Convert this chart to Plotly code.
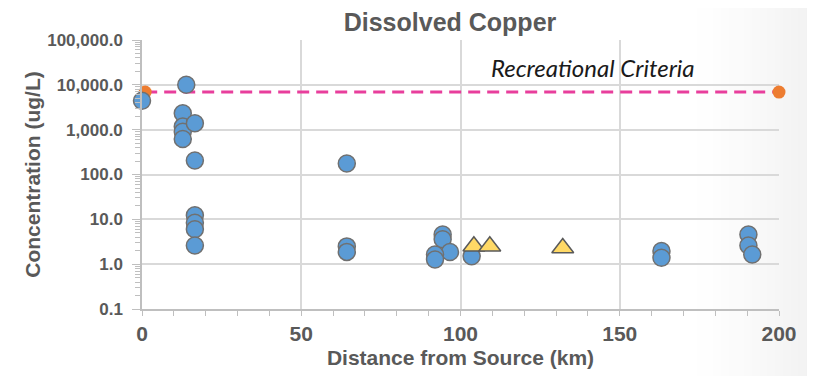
import plotly.graph_objects as go

# Dissolved copper measurements (km from source, ug/L)
blue_x = [0, 13.9, 12.8, 12.8, 12.8, 12.8, 16.6, 16.6, 16.6, 16.6, 16.6, 16.6,
          64.3, 64.3, 64.3, 94.4, 94.4, 96.7, 92.0, 92.0, 103.5,
          163.1, 163.1, 190.4, 190.4, 191.6]
blue_y = [4400, 10000, 2330, 1170, 900, 620, 1390, 205, 12.3, 8.4, 6.0, 2.6,
          176, 2.49, 1.88, 4.6, 3.6, 1.86, 1.65, 1.27, 1.5,
          1.96, 1.39, 4.6, 2.6, 1.65]

tri_x = [104.2, 109.2, 132.1]
tri_y = [2.5, 2.5, 2.3]

criteria_x = [1, 200]
criteria_y = [6900, 6900]
criteria_label = "Recreational Criteria"

y_tickvals = [0.1, 1, 10, 100, 1000, 10000, 100000]
y_ticktext = ["0.1", "1.0", "10.0", "100.0", "1,000.0", "10,000.0", "100,000.0"]
x_tickvals = [0, 50, 100, 150, 200]

GRAY_TXT = "#595959"
FONT = "Liberation Sans, Arial, sans-serif"
OFF = 8  # default page body margin

W, H = 815 - OFF, 376 - OFF
L, R, T, B = 141.5 - OFF, 35.5, 40 - OFF, 66.5
PW = W - L - R

fig = go.Figure()

fig.add_trace(go.Scatter(
    x=criteria_x, y=criteria_y, mode="lines+markers",
    line=dict(color="#E83E9C", width=3, dash="12px,7px"),
    marker=dict(color="#ED7D31", size=13, line=dict(width=0)),
    cliponaxis=False, showlegend=False, hoverinfo="skip"))

fig.add_trace(go.Scatter(
    x=blue_x, y=blue_y, mode="markers",
    marker=dict(color="#5B9BD5", size=17, line=dict(color="#707070", width=1.5)),
    cliponaxis=False, showlegend=False))

fig.add_trace(go.Scatter(
    x=tri_x, y=tri_y, mode="markers",
    marker=dict(symbol="triangle-up", color="#FFD966", size=19,
                line=dict(color="#595959", width=1.5)),
    cliponaxis=False, showlegend=False))

# subtle slide-background gradient at the right edge
shapes = []
n = 16
x0px, x1px = 690 - OFF, W
for i in range(n):
    a = x0px + (x1px - x0px) * i / n
    b = x0px + (x1px - x0px) * (i + 1) / n
    g = int(round(255 - 13 * ((i + 1) / n) ** 1.3))
    shapes.append(dict(type="rect", xref="paper", yref="paper",
                       x0=(a - L) / PW, x1=(b - L) / PW + 0.002,
                       y0=-1, y1=2, line=dict(width=0),
                       fillcolor=f"rgb({g},{g},{g})", layer="below"))

fig.update_layout(
    width=W, height=H,
    margin=dict(l=L, r=R, t=T, b=B, autoexpand=False),
    paper_bgcolor="white", plot_bgcolor="rgba(0,0,0,0)",
    shapes=shapes,
    title=dict(text="<b>Dissolved Copper</b>", x=(450 - OFF) / W, xanchor="center",
               y=1 - (22 - OFF) / H, yanchor="middle", yref="container",
               font=dict(family=FONT, size=25, color=GRAY_TXT)),
    annotations=[dict(text=criteria_label, x=141.5, y=4.38, xref="x", yref="y",
                      xanchor="center", yanchor="middle", showarrow=False,
                      font=dict(family="Lato, Open Sans, sans-serif", size=24,
                                color="#1a1a1a", style="italic"))],
)

fig.update_xaxes(
    range=[0, 200], tickvals=x_tickvals, automargin=False,
    showgrid=True, gridcolor="#d9d9d9", gridwidth=1.5,
    showline=True, linecolor="#bfbfbf", linewidth=1.5,
    ticks="outside", ticklen=5, tickcolor="#bfbfbf",
    minor=dict(dtick=10, ticks="outside", ticklen=5, tickcolor="#bfbfbf", showgrid=False),
    zeroline=False,
    tickfont=dict(family=FONT, size=21, color=GRAY_TXT, weight="bold"),
    title=dict(text="Distance from Source (km)", standoff=6,
               font=dict(family=FONT, size=21, color=GRAY_TXT, weight="bold")),
)

fig.update_yaxes(
    type="log", range=[-1, 5], tickvals=y_tickvals, ticktext=y_ticktext,
    automargin=False,
    showgrid=True, gridcolor="#d9d9d9", gridwidth=1.5,
    showline=True, linecolor="#bfbfbf", linewidth=1.5,
    ticks="outside", ticklen=8, tickcolor="#bfbfbf",
    minor=dict(ticks="outside", ticklen=5, tickcolor="#bfbfbf", dtick="D1", showgrid=False),
    zeroline=False, ticklabelstandoff=6,
    tickfont=dict(family=FONT, size=17, color=GRAY_TXT, weight="bold"),
    title=dict(text="Concentration (ug/L)", standoff=1,
               font=dict(family=FONT, size=21, color=GRAY_TXT, weight="bold")),
)

fig.write_html("out.html")
